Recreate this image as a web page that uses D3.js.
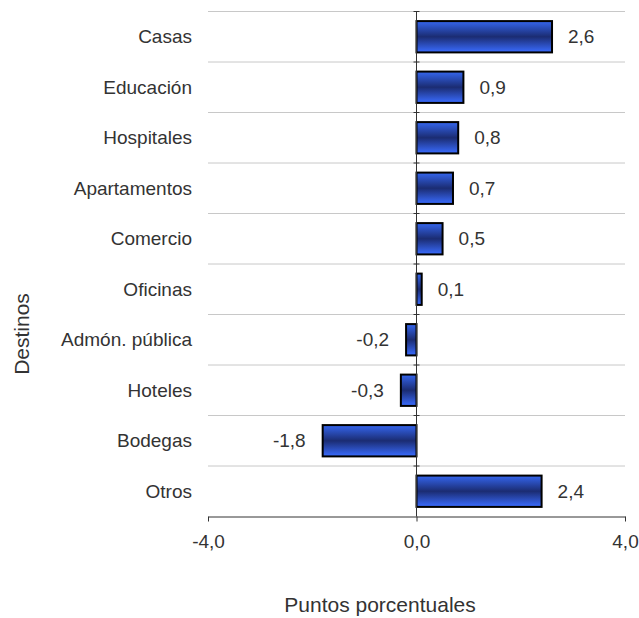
<!DOCTYPE html>
<html><head><meta charset="utf-8">
<script src="https://cdn.jsdelivr.net/npm/d3@7"></script>
<style>body{margin:0;background:#fff;}svg{display:block;font-family:"Liberation Sans",Arial,sans-serif;}</style>
</head><body>
<svg id="chart" width="639" height="618"></svg>
<script>
const categories = ["Casas","Educación","Hospitales","Apartamentos","Comercio","Oficinas","Admón. pública","Hoteles","Bodegas","Otros"];
const values = [2.6, 0.9, 0.8, 0.7, 0.5, 0.1, -0.2, -0.3, -1.8, 2.4];
const xTicks = [-4, 0, 4];
const xTitle = "Puntos porcentuales";
const yTitle = "Destinos";

const svg = d3.select("#chart");
const plotL = 208, plotR = 625, plotT = 11.5, plotB = 516.5;
const x = d3.scaleLinear().domain([-4, 4]).range([plotL, plotR]);
const y = d3.scaleBand().domain(categories).range([plotT, plotB]).paddingInner(0.38).paddingOuter(0.19);
const fmt = v => d3.format(".1f")(v).replace(".", ",").replace("−", "-");
const fs = 19;

const defs = svg.append("defs");
const grad = defs.append("linearGradient").attr("id", "barGrad").attr("x1", 0).attr("y1", 0).attr("x2", 0).attr("y2", 1);
grad.append("stop").attr("offset", "0%").attr("stop-color", "#3566ee");
grad.append("stop").attr("offset", "50%").attr("stop-color", "#1b2c72");
grad.append("stop").attr("offset", "100%").attr("stop-color", "#3a6cff");

const step = (plotB - plotT) / categories.length;
const bounds = d3.range(categories.length).map(i => plotT + i * step);
svg.append("g").selectAll("line").data(bounds).join("line")
  .attr("x1", plotL).attr("x2", plotR)
  .attr("y1", d => d).attr("y2", d => d)
  .attr("stroke", "#c8c8c8").attr("stroke-width", 1);

svg.append("g").selectAll("rect").data(values).join("rect")
  .attr("x", d => x(Math.min(0, d)))
  .attr("width", d => Math.abs(x(d) - x(0)))
  .attr("y", (d, i) => y(categories[i]))
  .attr("height", y.bandwidth())
  .attr("fill", "url(#barGrad)")
  .attr("stroke", "#000").attr("stroke-width", 2);

svg.append("line").attr("x1", x(0)).attr("x2", x(0)).attr("y1", plotT).attr("y2", plotB)
  .attr("stroke", "#333").attr("stroke-width", 1);
svg.append("g").selectAll("line").data(bounds).join("line")
  .attr("x1", x(0) - 3).attr("x2", x(0) + 3)
  .attr("y1", d => d).attr("y2", d => d)
  .attr("stroke", "#333").attr("stroke-width", 1);

const xAxis = svg.append("g").attr("transform", `translate(0,${plotB})`)
  .call(d3.axisBottom(x).tickValues(xTicks).tickFormat(fmt).tickSizeInner(5).tickSizeOuter(0).tickPadding(13));
xAxis.select(".domain").attr("stroke", "#333");
xAxis.selectAll(".tick line").attr("stroke", "#333");
xAxis.selectAll("text").attr("font-size", fs).attr("fill", "#333").attr("font-family", "Liberation Sans, Arial, sans-serif");

svg.append("g").selectAll("text").data(categories).join("text")
  .attr("x", 192).attr("y", d => y(d) + y.bandwidth() / 2)
  .attr("dy", "0.35em").attr("text-anchor", "end")
  .attr("font-size", fs).attr("fill", "#333").text(d => d);

svg.append("g").selectAll("text").data(values).join("text")
  .attr("x", d => d >= 0 ? x(d) + 16 : x(d) - 17)
  .attr("y", (d, i) => y(categories[i]) + y.bandwidth() / 2)
  .attr("dy", "0.35em").attr("text-anchor", d => d >= 0 ? "start" : "end")
  .attr("font-size", fs).attr("fill", "#333").text(fmt);

svg.append("text").attr("x", 380).attr("y", 612).attr("text-anchor", "middle")
  .attr("font-size", 21).attr("fill", "#333").text(xTitle);
svg.append("text").attr("transform", `translate(29,334) rotate(-90)`)
  .attr("text-anchor", "middle").attr("font-size", 21).attr("fill", "#333").text(yTitle);
</script>
</body></html>
